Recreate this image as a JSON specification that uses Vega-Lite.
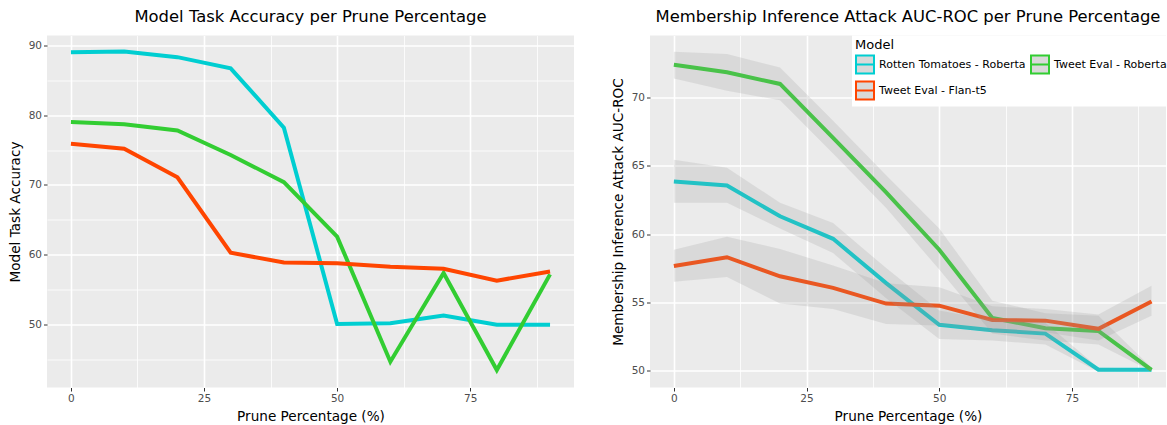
{
  "$schema": "https://vega.github.io/schema/vega-lite/v6.json",
  "padding": {"left": 8, "top": 8.5, "right": 0, "bottom": 0},
  "background": "white",
  "spacing": 37,
  "datasets": {
    "acc": [
      {"model": "Rotten Tomatoes - Roberta", "prune": 0, "acc": 89.0},
      {"model": "Rotten Tomatoes - Roberta", "prune": 10, "acc": 89.1},
      {"model": "Rotten Tomatoes - Roberta", "prune": 20, "acc": 88.3},
      {"model": "Rotten Tomatoes - Roberta", "prune": 30, "acc": 86.7},
      {"model": "Rotten Tomatoes - Roberta", "prune": 40, "acc": 78.2},
      {"model": "Rotten Tomatoes - Roberta", "prune": 50, "acc": 50.1},
      {"model": "Rotten Tomatoes - Roberta", "prune": 60, "acc": 50.2},
      {"model": "Rotten Tomatoes - Roberta", "prune": 70, "acc": 51.3},
      {"model": "Rotten Tomatoes - Roberta", "prune": 80, "acc": 50.0},
      {"model": "Rotten Tomatoes - Roberta", "prune": 90, "acc": 50.0},
      {"model": "Tweet Eval - Roberta", "prune": 0, "acc": 79.0},
      {"model": "Tweet Eval - Roberta", "prune": 10, "acc": 78.7},
      {"model": "Tweet Eval - Roberta", "prune": 20, "acc": 77.8},
      {"model": "Tweet Eval - Roberta", "prune": 30, "acc": 74.3},
      {"model": "Tweet Eval - Roberta", "prune": 40, "acc": 70.4},
      {"model": "Tweet Eval - Roberta", "prune": 50, "acc": 62.6},
      {"model": "Tweet Eval - Roberta", "prune": 60, "acc": 44.7},
      {"model": "Tweet Eval - Roberta", "prune": 70, "acc": 57.4},
      {"model": "Tweet Eval - Roberta", "prune": 80, "acc": 43.5},
      {"model": "Tweet Eval - Roberta", "prune": 90, "acc": 57.2},
      {"model": "Tweet Eval - Flan-t5", "prune": 0, "acc": 75.9},
      {"model": "Tweet Eval - Flan-t5", "prune": 10, "acc": 75.2},
      {"model": "Tweet Eval - Flan-t5", "prune": 20, "acc": 71.1},
      {"model": "Tweet Eval - Flan-t5", "prune": 30, "acc": 60.3},
      {"model": "Tweet Eval - Flan-t5", "prune": 40, "acc": 58.9},
      {"model": "Tweet Eval - Flan-t5", "prune": 50, "acc": 58.8},
      {"model": "Tweet Eval - Flan-t5", "prune": 60, "acc": 58.3},
      {"model": "Tweet Eval - Flan-t5", "prune": 70, "acc": 58.0},
      {"model": "Tweet Eval - Flan-t5", "prune": 80, "acc": 56.3},
      {"model": "Tweet Eval - Flan-t5", "prune": 90, "acc": 57.6}
    ],
    "mia": [
      {"model": "Rotten Tomatoes - Roberta", "prune": 0, "auc": 63.85, "lo": 62.3, "hi": 65.45},
      {"model": "Rotten Tomatoes - Roberta", "prune": 10, "auc": 63.55, "lo": 62.3, "hi": 64.85},
      {"model": "Rotten Tomatoes - Roberta", "prune": 20, "auc": 61.3, "lo": 60.4, "hi": 62.3},
      {"model": "Rotten Tomatoes - Roberta", "prune": 30, "auc": 59.65, "lo": 58.6, "hi": 60.8},
      {"model": "Rotten Tomatoes - Roberta", "prune": 40, "auc": 56.4, "lo": 55.3, "hi": 57.5},
      {"model": "Rotten Tomatoes - Roberta", "prune": 50, "auc": 53.35, "lo": 52.3, "hi": 54.4},
      {"model": "Rotten Tomatoes - Roberta", "prune": 60, "auc": 52.95, "lo": 52.2, "hi": 53.7},
      {"model": "Rotten Tomatoes - Roberta", "prune": 70, "auc": 52.7, "lo": 51.9, "hi": 53.5},
      {"model": "Rotten Tomatoes - Roberta", "prune": 80, "auc": 50.05, "lo": 49.9, "hi": 50.2},
      {"model": "Rotten Tomatoes - Roberta", "prune": 90, "auc": 50.05, "lo": 49.95, "hi": 50.15},
      {"model": "Tweet Eval - Roberta", "prune": 0, "auc": 72.4, "lo": 71.4, "hi": 73.35},
      {"model": "Tweet Eval - Roberta", "prune": 10, "auc": 71.85, "lo": 70.5, "hi": 73.2},
      {"model": "Tweet Eval - Roberta", "prune": 20, "auc": 71.0, "lo": 69.8, "hi": 72.2},
      {"model": "Tweet Eval - Roberta", "prune": 30, "auc": 67.05, "lo": 65.9, "hi": 68.3},
      {"model": "Tweet Eval - Roberta", "prune": 40, "auc": 63.05, "lo": 61.9, "hi": 64.3},
      {"model": "Tweet Eval - Roberta", "prune": 50, "auc": 58.85, "lo": 57.4, "hi": 60.4},
      {"model": "Tweet Eval - Roberta", "prune": 60, "auc": 53.85, "lo": 52.7, "hi": 55.1},
      {"model": "Tweet Eval - Roberta", "prune": 70, "auc": 53.1, "lo": 52.2, "hi": 54.2},
      {"model": "Tweet Eval - Roberta", "prune": 80, "auc": 52.9, "lo": 51.9, "hi": 54.0},
      {"model": "Tweet Eval - Roberta", "prune": 90, "auc": 50.05, "lo": 49.95, "hi": 50.2},
      {"model": "Tweet Eval - Flan-t5", "prune": 0, "auc": 57.65, "lo": 56.5, "hi": 58.85},
      {"model": "Tweet Eval - Flan-t5", "prune": 10, "auc": 58.3, "lo": 56.85, "hi": 59.8},
      {"model": "Tweet Eval - Flan-t5", "prune": 20, "auc": 56.9, "lo": 54.9, "hi": 58.9},
      {"model": "Tweet Eval - Flan-t5", "prune": 30, "auc": 56.05, "lo": 54.5, "hi": 57.7},
      {"model": "Tweet Eval - Flan-t5", "prune": 40, "auc": 54.9, "lo": 53.4, "hi": 56.4},
      {"model": "Tweet Eval - Flan-t5", "prune": 50, "auc": 54.75, "lo": 53.3, "hi": 56.1},
      {"model": "Tweet Eval - Flan-t5", "prune": 60, "auc": 53.7, "lo": 52.8, "hi": 54.7},
      {"model": "Tweet Eval - Flan-t5", "prune": 70, "auc": 53.65, "lo": 52.8, "hi": 54.5},
      {"model": "Tweet Eval - Flan-t5", "prune": 80, "auc": 53.05, "lo": 52.2, "hi": 54.1},
      {"model": "Tweet Eval - Flan-t5", "prune": 90, "auc": 55.05, "lo": 54.0, "hi": 56.2}
    ]
  },
  "hconcat": [
    {
      "width": 527,
      "height": 352,
      "title": {"text": "Model Task Accuracy per Prune Percentage"},
      "data": {"name": "acc"},
      "mark": {"type": "line", "strokeWidth": 4},
      "encoding": {
        "x": {
          "field": "prune", "type": "quantitative", "title": "Prune Percentage (%)",
          "scale": {"domain": [-4.5, 94.5], "nice": false, "zero": false},
          "axis": {
            "values": [0, 12.5, 25, 37.5, 50, 62.5, 75, 87.5],
            "labelExpr": "datum.value % 25 === 0 ? datum.label : ''",
            "gridWidth": {"condition": {"test": "datum.value % 25 !== 0", "value": 0.8}, "value": 1.6},
            "tickOpacity": {"condition": {"test": "datum.value % 25 !== 0", "value": 0}, "value": 1}
          }
        },
        "y": {
          "field": "acc", "type": "quantitative", "title": "Model Task Accuracy",
          "scale": {"domain": [41.0, 91.4], "nice": false, "zero": false},
          "axis": {
            "values": [45, 50, 55, 60, 65, 70, 75, 80, 85, 90],
            "labelExpr": "datum.value % 10 === 0 ? datum.label : ''",
            "gridWidth": {"condition": {"test": "datum.value % 10 !== 0", "value": 0.8}, "value": 1.6},
            "tickOpacity": {"condition": {"test": "datum.value % 10 !== 0", "value": 0}, "value": 1}
          }
        },
        "color": {
          "field": "model", "type": "nominal",
          "scale": {"domain": ["Rotten Tomatoes - Roberta", "Tweet Eval - Flan-t5", "Tweet Eval - Roberta"], "range": ["#00CED1", "#FF4500", "#32CD32"]},
          "legend": null
        }
      }
    },
    {
      "width": 516,
      "height": 352,
      "title": {"text": "Membership Inference Attack AUC-ROC per Prune Percentage"},
      "data": {"name": "mia"},
      "layer": [
        {
          "mark": {"type": "line", "strokeWidth": 4},
          "encoding": {
            "x": {
              "field": "prune", "type": "quantitative", "title": "Prune Percentage (%)",
              "scale": {"domain": [-4.5, 92.73], "nice": false, "zero": false},
              "axis": {
                "values": [0, 12.5, 25, 37.5, 50, 62.5, 75, 87.5],
                "labelExpr": "datum.value % 25 === 0 ? datum.label : ''",
                "gridWidth": {"condition": {"test": "datum.value % 25 !== 0", "value": 0.8}, "value": 1.6},
                "tickOpacity": {"condition": {"test": "datum.value % 25 !== 0", "value": 0}, "value": 1}
              }
            },
            "y": {
              "field": "auc", "type": "quantitative", "title": "Membership Inference Attack AUC-ROC",
              "scale": {"domain": [48.75, 74.55], "nice": false, "zero": false},
              "axis": {
                "values": [50, 52.5, 55, 57.5, 60, 62.5, 65, 67.5, 70, 72.5],
                "labelExpr": "datum.value % 5 === 0 ? datum.label : ''",
                "gridWidth": {"condition": {"test": "datum.value % 5 !== 0", "value": 0.8}, "value": 1.6},
                "tickOpacity": {"condition": {"test": "datum.value % 5 !== 0", "value": 0}, "value": 1}
              }
            },
            "color": {
              "field": "model", "type": "nominal",
              "scale": {"domain": ["Rotten Tomatoes - Roberta", "Tweet Eval - Flan-t5", "Tweet Eval - Roberta"], "range": ["#00CED1", "#FF4500", "#32CD32"]},
              "legend": {
                "title": "Model",
                "values": ["Rotten Tomatoes - Roberta", "Tweet Eval - Flan-t5", "Tweet Eval - Roberta"],
                "orient": "none",
                "legendX": 202,
                "legendY": 0,
                "columns": 2,
                "fillColor": "white",
                "padding": 3,
                "symbolType": "M-1,-1H1V1H-1ZM-1,0H1",
                "symbolSize": 324,
                "symbolStrokeWidth": 2,
                "symbolFillColor": "#D9D9D9",
                "symbolOpacity": 1,
                "labelFontSize": 11,
                "labelFont": "DejaVu Sans",
                "labelColor": "black",
                "labelOffset": 4,
                "labelLimit": 300,
                "titleFontSize": 13,
                "titleFont": "DejaVu Sans",
                "titleFontWeight": "normal",
                "titleColor": "black",
                "titlePadding": 3,
                "rowPadding": 0,
                "columnPadding": 1,
                "encode": {"symbols": {"update": {"fill": {"value": "#D9D9D9"}, "fillOpacity": {"value": 1}}}}
              }
            }
          }
        },
        {
          "mark": {"type": "area", "color": "#999999", "opacity": 0.22},
          "encoding": {
            "x": {"field": "prune", "type": "quantitative"},
            "y": {"field": "lo", "type": "quantitative", "title": "Membership Inference Attack AUC-ROC"},
            "y2": {"field": "hi"},
            "detail": {"field": "model", "type": "nominal"}
          }
        }
      ]
    }
  ],
  "resolve": {"scale": {"color": "independent"}, "legend": {"color": "independent"}},
  "config": {
    "view": {"fill": "#EBEBEB", "stroke": null},
    "title": {"fontSize": 16.4, "font": "DejaVu Sans", "fontWeight": "normal", "color": "black", "offset": 10, "anchor": "middle"},
    "axis": {
      "domain": false,
      "gridColor": "white",
      "tickColor": "#333333",
      "tickSize": 3.5,
      "tickWidth": 1,
      "labelFont": "DejaVu Sans",
      "labelFontSize": 10.5,
      "labelColor": "#4D4D4D",
      "labelPadding": 2,
      "titleFont": "DejaVu Sans",
      "titleFontSize": 13.6,
      "titleFontWeight": "normal",
      "titleColor": "black"
    },
    "axisX": {"titlePadding": 6},
    "axisY": {"titlePadding": 6}
  }
}
